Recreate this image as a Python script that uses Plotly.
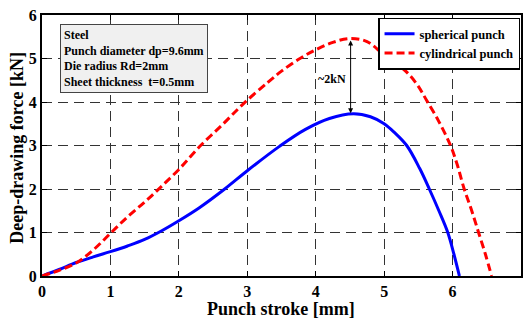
import plotly.graph_objects as go

# Spherical punch (blue, solid)
sph_x = [0, 0.25, 0.5, 0.75, 1.0, 1.25, 1.5, 1.75, 2.0, 2.3, 2.67, 3.0, 3.47, 3.85, 4.2, 4.55, 4.8, 5.0, 5.15, 5.33, 5.52, 5.66, 5.8, 5.93, 6.02, 6.1]
sph_y = [0, 0.15, 0.31, 0.44, 0.56, 0.69, 0.84, 1.04, 1.27, 1.57, 2.0, 2.42, 2.98, 3.37, 3.62, 3.73, 3.66, 3.5, 3.3, 3.0, 2.47, 2.0, 1.5, 1.0, 0.5, 0.0]

# Cylindrical punch (red, dashed)
cyl_x = [0, 0.25, 0.5, 0.75, 1.0, 1.25, 1.5, 1.72, 2.0, 2.3, 2.65, 2.95, 3.3, 3.5, 3.77, 4.0, 4.25, 4.5, 4.75, 5.0, 5.2, 5.36, 5.5, 5.62, 5.8, 5.97, 6.07, 6.17, 6.28, 6.38, 6.48, 6.57]
cyl_y = [0, 0.13, 0.3, 0.6, 0.98, 1.36, 1.70, 2.02, 2.45, 2.97, 3.5, 3.97, 4.45, 4.71, 5.0, 5.2, 5.37, 5.46, 5.39, 5.08, 4.86, 4.64, 4.36, 4.04, 3.55, 3.0, 2.55, 2.0, 1.5, 1.0, 0.5, 0.0]

x_ticks = [0, 1, 2, 3, 4, 5, 6, 7]
y_ticks = [0, 1, 2, 3, 4, 5, 6]

info_lines = ["Steel", "Punch diameter dp=9.6mm", "Die radius Rd=2mm", "Sheet thickness  t=0.5mm"]
arrow_x = 4.51
arrow_top = 5.45
arrow_bottom = 3.74
arrow_label_y = 4.52

FONT = "Liberation Serif"

fig = go.Figure()
fig.add_trace(go.Scatter(x=sph_x, y=sph_y, mode="lines", name="<b>spherical punch</b>",
                         line=dict(color="#0000ff", width=3, shape="spline", smoothing=1.0)))
fig.add_trace(go.Scatter(x=cyl_x, y=cyl_y, mode="lines", name="<b>cylindrical punch</b>",
                         line=dict(color="#ff0000", width=3, dash="8px,4px", shape="spline", smoothing=1.0)))

axis_common = dict(
    showline=True, linecolor="black", linewidth=2, mirror="ticks",
    ticks="inside", ticklen=5, tickcolor="black", tickwidth=1,
    showgrid=True, gridcolor="#333333", griddash="10px,6px", gridwidth=1,
    zeroline=False, automargin=False,
    tickfont=dict(family=FONT, size=16, color="black"),
)

fig.update_xaxes(range=[0, 7], tickvals=x_ticks, ticktext=[f"<b>{t}</b>" for t in x_ticks], **axis_common)
fig.update_yaxes(range=[0, 6], tickvals=y_ticks, ticktext=[f"<b>{t}</b>" for t in y_ticks], **axis_common)

# Axis titles
fig.add_annotation(x=0.498, y=-0.0805, xref="paper", yref="paper", text="<b>Punch stroke [mm]</b>",
                   showarrow=False, xanchor="center", yanchor="top",
                   font=dict(family=FONT, size=18, color="black"))
fig.add_annotation(x=-0.053, y=0.49, xref="paper", yref="paper", text="<b>Deep-drawing force [kN]</b>",
                   showarrow=False, xanchor="center", yanchor="middle", textangle=-90,
                   font=dict(family=FONT, size=18, color="black"))

# Double-headed arrow
fig.add_annotation(x=arrow_x, y=arrow_bottom, ax=arrow_x, ay=arrow_top, xref="x", yref="y",
                   axref="x", ayref="y", text="", showarrow=True,
                   arrowhead=2, startarrowhead=2, arrowside="end+start",
                   arrowsize=1, arrowwidth=1, arrowcolor="black")
fig.add_annotation(x=arrow_x - 0.04, y=arrow_label_y, xref="x", yref="y",
                   text="<b>~2kN</b>", showarrow=False, xanchor="right", yanchor="middle",
                   font=dict(family=FONT, size=12, color="black"))

# Info box
fig.add_annotation(x=0.038, y=0.965, xref="paper", yref="paper", xanchor="left", yanchor="top",
                   text="<br>".join(f"<b>{l}</b>" for l in info_lines), align="left", showarrow=False,
                   bgcolor="#f0f0f0", bordercolor="#444444", borderwidth=1, borderpad=3,
                   font=dict(family=FONT, size=12, color="black"))

fig.update_layout(
    width=524, height=320,
    margin=dict(l=42, r=3, t=15, b=44, autoexpand=False),
    paper_bgcolor="white", plot_bgcolor="white",
    showlegend=True,
    legend=dict(x=0.998, y=0.99, xanchor="right", yanchor="top",
                bgcolor="white", bordercolor="black", borderwidth=1.5,
                font=dict(family=FONT, size=12.5, color="black"),
                tracegroupgap=0, itemwidth=30),
    font=dict(family=FONT, color="black"),
)

fig.write_html("out.html", config={"displayModeBar": False},
               post_script="document.body.style.margin='0';")
